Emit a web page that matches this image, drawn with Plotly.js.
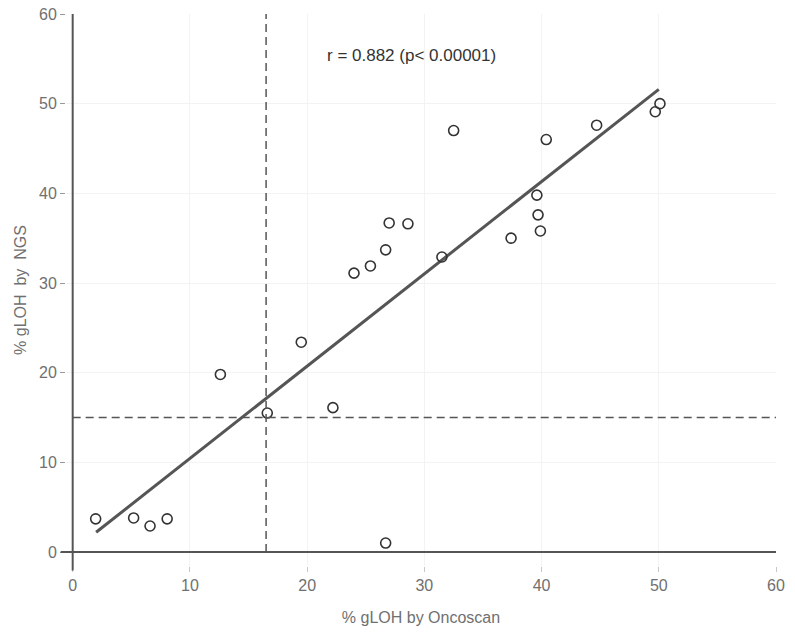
<!DOCTYPE html>
<html>
<head>
<meta charset="utf-8">
<script src="https://cdn.plot.ly/plotly-3.0.1.min.js"></script>
<style>
  html, body { margin: 0; padding: 0; background: #fff; }
  #plot { width: 795px; height: 638px; }
</style>
</head>
<body>
<div id="plot"></div>
<script>
// % gLOH: Oncoscan (x) vs NGS (y)
var oncoscan = [1.96, 5.2, 6.6, 8.06, 12.6, 16.6, 19.5, 22.2, 24.0, 25.4, 26.7, 26.7, 27.0,
                28.6, 31.5, 32.5, 37.4, 39.6, 39.7, 39.9, 40.4, 44.7, 49.7, 50.1];
var ngs = [3.7, 3.8, 2.9, 3.7, 19.8, 15.5, 23.4, 16.1, 31.1, 31.9, 33.7, 1.0, 36.7,
           36.6, 32.9, 47.0, 35.0, 39.8, 37.6, 35.8, 46.0, 47.6, 49.1, 50.0];

// regression line end points
var fitX = [2.0, 50.0];
var fitY = [2.2, 51.6];

// cut-offs (dashed lines)
var cutX = 16.5;
var cutY = 15;

var xTicks = [0, 10, 20, 30, 40, 50, 60];
var yTicks = [0, 10, 20, 30, 40, 50, 60];

var axisColor = '#555';
var textColor = '#707070';

var data = [
    {
        x: fitX,
        y: fitY,
        mode: 'lines',
        line: { color: '#555', width: 3 },
        hoverinfo: 'skip',
        showlegend: false
    },
    {
        x: oncoscan,
        y: ngs,
        mode: 'markers',
        marker: {
            symbol: 'circle-open',
            size: 10,
            color: '#333',
            line: { width: 1.6, color: '#333' }
        },
        showlegend: false
    }
];

var layout = {
    width: 795,
    height: 638,
    margin: { l: 66, r: 19, t: 14, b: 72, pad: 0 },
    paper_bgcolor: '#fff',
    plot_bgcolor: '#fff',
    font: { family: 'Liberation Sans, Arial, sans-serif', size: 16, color: textColor },
    xaxis: {
        range: [-0.57, 60],
        tickvals: xTicks,
        ticktext: xTicks.map(String),
        ticks: 'outside',
        ticklen: 5,
        tickcolor: '#c8c8c8',
        showline: false,
        zeroline: false,
        showgrid: true,
        gridcolor: '#f3f3f3',
        tickfont: { size: 16, color: textColor },
        title: { text: '% gLOH by Oncoscan', font: { size: 16, color: textColor }, standoff: 18 },
        fixedrange: true
    },
    yaxis: {
        range: [-1.56, 60],
        tickvals: yTicks,
        ticktext: yTicks.map(String),
        ticks: 'outside',
        ticklen: 5,
        tickcolor: '#999',
        showline: false,
        zeroline: false,
        showgrid: true,
        gridcolor: '#f3f3f3',
        tickfont: { size: 16, color: textColor },
        title: { text: '% gLOH  by  NGS', font: { size: 16, color: textColor }, standoff: 8 },
        fixedrange: true
    },
    shapes: [
        // axis lines
        { type: 'line', xref: 'paper', yref: 'y', x0: -0.0075, x1: 1, y0: 0, y1: 0,
          line: { color: axisColor, width: 2 } },
        { type: 'line', xref: 'x', yref: 'paper', x0: 0, x1: 0, y0: -0.008, y1: 1,
          line: { color: axisColor, width: 2 } },
        // cut-off lines
        { type: 'line', xref: 'x', yref: 'y', x0: 0, x1: 60, y0: cutY, y1: cutY,
          line: { color: axisColor, width: 1.5, dash: '8px,5px' } },
        { type: 'line', xref: 'x', yref: 'y', x0: cutX, x1: cutX, y0: 0, y1: 60,
          line: { color: axisColor, width: 1.5, dash: '8px,5px' } }
    ],
    annotations: [
        {
            x: 28.9, y: 55.4, xref: 'x', yref: 'y',
            text: 'r = 0.882 (p< 0.00001)',
            showarrow: false,
            font: { size: 17, color: '#333' }
        }
    ]
};

Plotly.newPlot('plot', data, layout, { displayModeBar: false, staticPlot: true });
</script>
</body>
</html>
